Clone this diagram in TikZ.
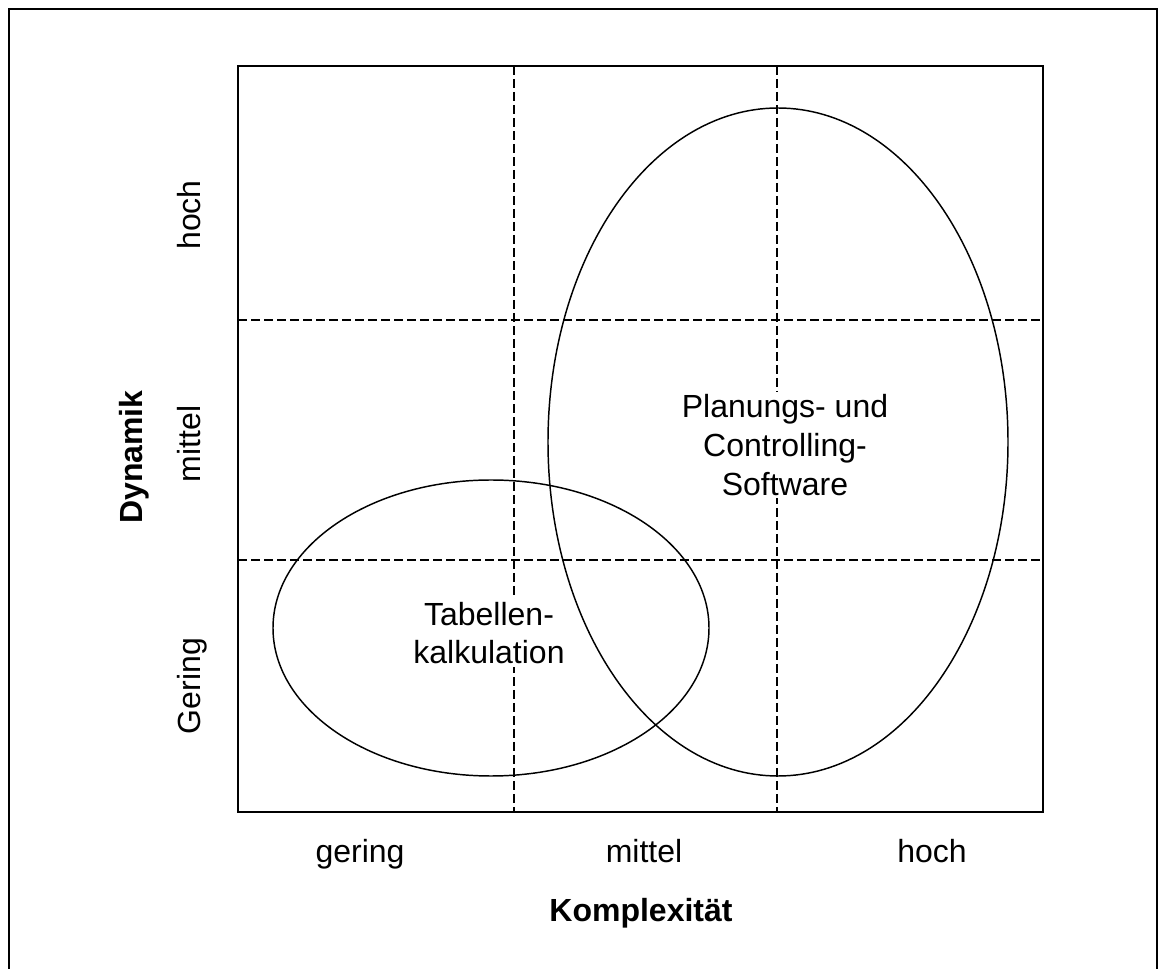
\documentclass[tikz,border=0pt]{standalone}
\usepackage{fontspec}
\setmainfont{Liberation Sans}
\usepackage{xcolor}
\usepackage{tikz}
\usetikzlibrary{positioning,calc}

\tikzset{
  lbl/.style={font=\fontsize{24}{29}\selectfont, inner sep=1pt},
  axlbl/.style={font=\fontsize{24}{29}\selectfont\bfseries, inner sep=1pt},
  areatxt/.style={lbl, align=center, fill=white, inner sep=2pt},
  grid/.style={line width=1.7pt, dash pattern=on 6.75pt off 3pt},
  outline/.style={line width=1.1pt}
}

\begin{document}
\begin{tikzpicture}[x=0.75pt, y=-0.75pt]
    \useasboundingbox (0,0) rectangle (1158,969);
    % frame
    \draw[outline] (9,980) -- (9,9) -- (1157,9) -- (1157,980);

    % portfolio box
    \coordinate (tl) at (238,66);
    \coordinate (br) at (1043,812);
    \draw[outline] (tl) rectangle (br);

    % grid lines
    \foreach \x in {514,777}
        \draw[grid] (\x,66) -- (\x,812);
    \foreach \y in {320,560}
        \draw[grid] (238,\y) -- (1043,\y);

    % areas
    \draw[outline] (491,628) ellipse [x radius=218, y radius=148];
    \draw[outline] (778,442) ellipse [x radius=230, y radius=334];

    \node[areatxt] (tab) at (489,633) {Tabellen-\\kalkulation};
    \node[areatxt] (plan) at (785,445) {Planungs- und\\Controlling-\\Software};

    % x axis
    \node[lbl, anchor=base] (xlow) at (360,863) {gering};
    \node[lbl, anchor=base] (xmid) at (644,863) {mittel};
    \node[lbl, anchor=base] (xhigh) at (932,863) {hoch};
    \node[axlbl, anchor=base] (xname) at (641,922) {Komplexität};

    % y axis
    \node[lbl, rotate=90, anchor=base] (yhigh) at (200,215) {hoch};
    \node[lbl, rotate=90, anchor=base] (ymid) at (200,444) {mittel};
    \node[lbl, rotate=90, anchor=base] (ylow) at (200,686) {Gering};
    \node[axlbl, rotate=90, anchor=base] (yname) at (142,457) {Dynamik};
\end{tikzpicture}
\end{document}
